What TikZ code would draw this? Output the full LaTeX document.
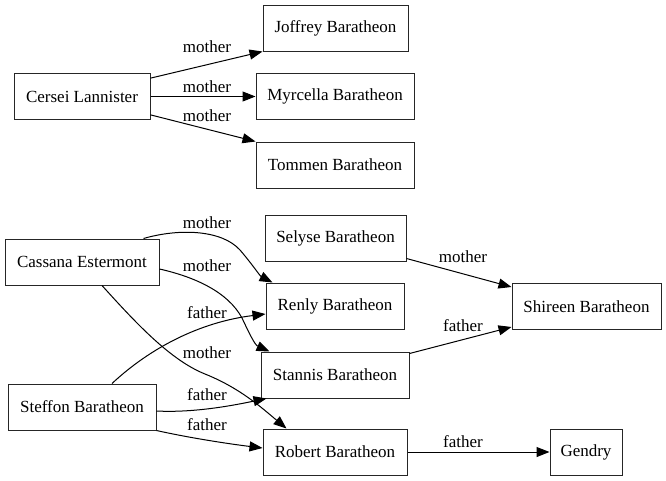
\documentclass[tikz,border=0pt]{standalone}
\usepackage{fontspec}
\setmainfont{Liberation Serif}
\usetikzlibrary{arrows.meta}
\begin{document}
\begin{tikzpicture}[x=1pt,y=-1pt,
  person/.style={draw=black!85,line width=1pt,minimum height=46pt,inner sep=0pt,font=\fontsize{17}{20}\selectfont},
  edge/.style={draw=black,line width=1pt,-{Triangle[length=13pt,width=10pt]}},
  lbl/.style={font=\fontsize{17}{20}\selectfont,inner sep=0pt}]
\useasboundingbox (0,0) rectangle (666,480);
\fill[white] (0,0) rectangle (666,480);
% nodes
\node[person,minimum width=136pt] (cersei) at (82,96.5) {Cersei Lannister};
\node[person,minimum width=145pt] (joffrey) at (335.5,28) {Joffrey Baratheon};
\node[person,minimum width=158pt] (myrcella) at (335,96.5) {Myrcella Baratheon};
\node[person,minimum width=158pt] (tommen) at (335,165) {Tommen Baratheon};
\node[person,minimum width=154pt] (cassana) at (82,262) {Cassana Estermont};
\node[person,minimum width=141pt] (selyse) at (335.5,238) {Selyse Baratheon};
\node[person,minimum width=138pt] (renly) at (335,306) {Renly Baratheon};
\node[person,minimum width=148pt] (stannis) at (335,375) {Stannis Baratheon};
\node[person,minimum width=148pt] (steffon) at (82,407) {Steffon Baratheon};
\node[person,minimum width=144pt] (robert) at (335,452) {Robert Baratheon};
\node[person,minimum width=149pt] (shireen) at (586.5,306.5) {Shireen Baratheon};
\node[person,minimum width=72pt] (gendry) at (586,452) {Gendry};
% Cersei's children
\draw[edge] (cersei.15) -- (joffrey.south west);
\draw[edge] (cersei.east) -- (myrcella.west);
\draw[edge] (cersei.-15) -- (tommen.north west);
\node[lbl] (l1) at (207,47) {mother};
\node[lbl] (l2) at (207,87) {mother};
\node[lbl] (l3) at (207,116) {mother};
% Cassana
\draw[edge] ([xshift=-16pt]cassana.north east) .. controls (180,228) and (222,230) .. (240,250)
  .. controls (252,264) and (260,276) .. ([xshift=7pt]renly.north west);
\draw[edge] ([yshift=-7pt]cassana.east) .. controls (195,277) and (228,292) .. (242,318)
  .. controls (250,335) and (255,345) .. ([xshift=9pt]stannis.north west);
\draw[edge] ([xshift=20pt]cassana.south) .. controls (135,322) and (170,360) .. (205,374)
  .. controls (240,388) and (262,408) .. ([xshift=24pt]robert.north west);
\node[lbl] (l4) at (207,223) {mother};
\node[lbl] (l5) at (207,266) {mother};
\node[lbl] (l6) at (207,353) {mother};
% Steffon
\draw[edge] ([xshift=30pt]steffon.north) .. controls (150,348) and (200,322) .. ([yshift=-8pt]renly.west);
\draw[edge] ([yshift=-4pt]steffon.east) .. controls (195,413) and (235,405) .. ([xshift=6pt]stannis.south west);
\draw[edge] (steffon.south east) .. controls (190,438) and (230,444) .. ([yshift=4pt]robert.west);
\node[lbl] (l7) at (207,313) {father};
\node[lbl] (l8) at (207,395) {father};
\node[lbl] (l9) at (207,425) {father};
% Shireen and Gendry
\draw[edge] ([yshift=3pt]selyse.south east) -- ([yshift=-4pt]shireen.north west);
\draw[edge] ([yshift=-2pt]stannis.north east) -- ([yshift=3pt]shireen.south west);
\draw[edge] (robert.east) -- (gendry.west);
\node[lbl] (l10) at (463,257) {mother};
\node[lbl] (l11) at (463,326) {father};
\node[lbl] (l12) at (463,442) {father};
\end{tikzpicture}
\end{document}
